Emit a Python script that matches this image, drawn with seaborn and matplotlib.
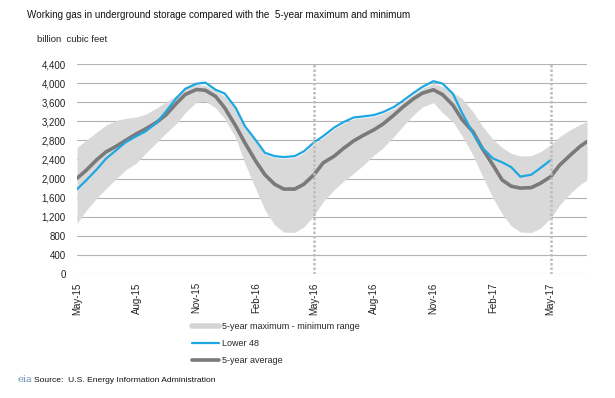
import numpy as np
import pandas as pd
import seaborn as sns
import matplotlib
matplotlib.use("Agg")
import matplotlib.pyplot as plt
import matplotlib.ticker as mticker
import matplotlib.dates as mdates
from matplotlib.lines import Line2D

# semi-monthly readings (billion cubic feet)
dates = ["2015-05-01", "2015-05-15", "2015-06-01", "2015-06-15", "2015-07-01", "2015-07-15",
         "2015-08-01", "2015-08-15", "2015-09-01", "2015-09-15", "2015-10-01", "2015-10-15",
         "2015-11-01", "2015-11-15", "2015-12-01", "2015-12-15", "2016-01-01", "2016-01-15",
         "2016-02-01", "2016-02-15", "2016-03-01", "2016-03-15", "2016-04-01", "2016-04-15",
         "2016-05-01", "2016-05-15", "2016-06-01", "2016-06-15", "2016-07-01", "2016-07-15",
         "2016-08-01", "2016-08-15", "2016-09-01", "2016-09-15", "2016-10-01", "2016-10-15",
         "2016-11-01", "2016-11-15", "2016-12-01", "2016-12-15", "2017-01-01", "2017-01-15",
         "2017-02-01", "2017-02-15", "2017-03-01", "2017-03-15", "2017-04-01", "2017-04-15",
         "2017-05-01", "2017-05-15", "2017-06-01", "2017-06-15", "2017-06-26"]

lower48 = [1775, 1960, 2200, 2420, 2600, 2760, 2890, 2990, 3170, 3400, 3680, 3880,
           3985, 4010, 3860, 3780, 3480, 3100, 2800, 2540, 2470, 2450, 2470, 2570,
           2760, 2890, 3070, 3180, 3280, 3300, 3330, 3390, 3500, 3630, 3790, 3920,
           4040, 3990, 3780, 3380, 2950, 2650, 2420, 2340, 2240, 2040, 2080, 2220,
           2385]

avg5 = [2005, 2170, 2400, 2560, 2680, 2800, 2940, 3040, 3180, 3330, 3570, 3760,
        3865, 3850, 3720, 3480, 3100, 2750, 2360, 2080, 1880, 1780, 1780, 1880,
        2085, 2330, 2470, 2630, 2790, 2900, 3020, 3140, 3330, 3500, 3670, 3790,
        3860, 3760, 3540, 3240, 2980, 2640, 2280, 1970, 1840, 1800, 1810, 1900,
        2040, 2285, 2500, 2670, 2775]

max5 = [2650, 2800, 2980, 3120, 3220, 3260, 3290, 3350, 3480, 3600, 3740, 3890,
        3970, 3950, 3840, 3720, 3460, 3060, 2760, 2510, 2440, 2420, 2440, 2540,
        2730, 2860, 3040, 3150, 3250, 3270, 3300, 3360, 3470, 3600, 3760, 3890,
        3990, 3930, 3800, 3680, 3400, 3110, 2820, 2650, 2530, 2470, 2480, 2560,
        2710, 2880, 3030, 3130, 3195]

min5 = [1060, 1330, 1600, 1790, 2000, 2180, 2330, 2530, 2760, 2950, 3150, 3380,
        3600, 3620, 3480, 3250, 2850, 2320, 1780, 1340, 1030, 880, 870, 985,
        1230, 1520, 1770, 1940, 2110, 2270, 2490, 2640, 2880, 3100, 3330, 3500,
        3590, 3380, 3190, 2900, 2490, 2070, 1590, 1260, 1010, 880, 870, 960,
        1170, 1450, 1700, 1870, 1970]

tick_dates = ["2015-05-01", "2015-08-01", "2015-11-01", "2016-02-01", "2016-05-01",
              "2016-08-01", "2016-11-01", "2017-02-01", "2017-05-01"]
marker_dates = ["2016-05-01", "2017-05-01"]

d = pd.to_datetime(dates)
df = pd.DataFrame({"date": d, "avg": avg5, "max": max5, "min": min5})
df48 = pd.DataFrame({"date": d[:len(lower48)], "val": lower48})

sns.set_style("white")
plt.rcParams['font.family'] = ['Liberation Sans', 'DejaVu Sans']

fig = plt.figure(figsize=(6.15, 3.98), dpi=100)
ax = fig.add_axes([77/615, 1-274/398, 510/615, 210/398])

ax.fill_between(df["date"], df["min"], df["max"], color="#d9d9d9", lw=0, zorder=1)
sns.lineplot(data=df48, x="date", y="val", ax=ax, color="#1ea7e1", lw=1.6, zorder=3)
sns.lineplot(data=df, x="date", y="avg", ax=ax, color="#7a7a7a", lw=2.6, zorder=2)

for md in marker_dates:
    ax.axvline(pd.Timestamp(md), color="#bdbdbd", lw=1.8, ls=(0, (1, 0.8)), zorder=4)

ax.set_ylim(0, 4400)
ax.set_yticks(range(0, 4401, 400))
ax.yaxis.set_major_formatter(mticker.FuncFormatter(lambda v, p: f"{int(v):,}"))
ax.set_xlim(d[0], d[-1])
ax.set_xticks(pd.to_datetime(tick_dates))
ax.xaxis.set_major_formatter(mdates.DateFormatter("%b-%y"))
plt.setp(ax.get_xticklabels(), rotation=90)
ax.tick_params(axis="both", length=0, labelsize=7, colors="#222222")
ax.tick_params(axis="x", pad=6)
ax.tick_params(axis="y", pad=8)
ax.yaxis.grid(True, color="#b3b3b3", lw=0.8)
ax.set_axisbelow(True)
for s in ax.spines.values():
    s.set_visible(False)
ax.set_xlabel("")
ax.set_ylabel("")

fig.text(27/615, 1-15/398, "Working gas in underground storage compared with the  5-year maximum and minimum",
         fontsize=7.1, va="center", ha="left", color="#111111")
fig.text(37/615, 1-40/398, "billion  cubic feet", fontsize=6.8, va="center", ha="left", color="#222222")

handles = [Line2D([], [], color="#d4d4d4", lw=4),
           Line2D([], [], color="#1ea7e1", lw=1.6),
           Line2D([], [], color="#7a7a7a", lw=2.6)]
labels = ["5-year maximum - minimum range", "Lower 48", "5-year average"]
fig.legend(handles, labels, loc="upper left", bbox_to_anchor=(192/615, 1-322/398),
           frameon=False, fontsize=6.5, handlelength=3.0, handletextpad=0.3,
           labelspacing=0.9, borderaxespad=0, borderpad=0)

fig.text(17/615, 1-379/398, "eia", fontsize=7, color="#6b8db5", family="serif", va="center")
fig.text(34/615, 1-380/398, "Source:  U.S. Energy Information Administration",
         fontsize=6.1, va="center", ha="left", color="#111111")

fig.savefig("out.png", dpi=100)
